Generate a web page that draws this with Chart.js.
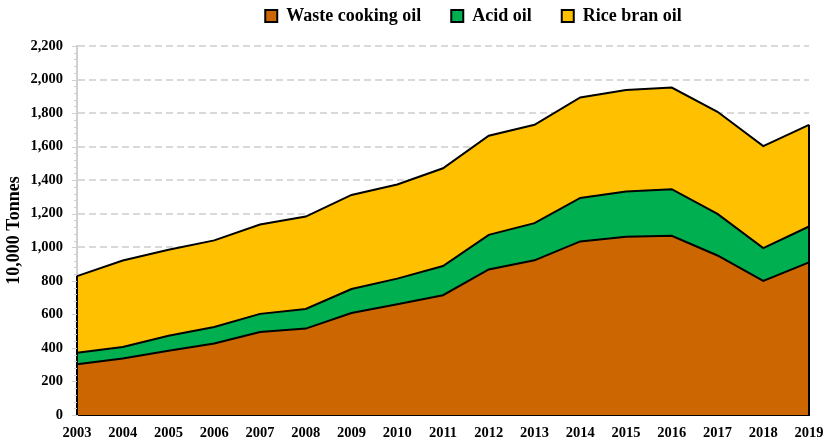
<!DOCTYPE html>
<html>
<head>
<meta charset="utf-8">
<script src="https://cdn.jsdelivr.net/npm/chart.js@4/dist/chart.umd.min.js"></script>
<style>
  html, body { margin: 0; padding: 0; background: #fff; }
  #wrap { width: 829px; height: 441px; }
</style>
</head>
<body>
<div id="wrap"><canvas id="oilChart"></canvas></div>
<script>
// years on the x axis
let years = ["2003","2004","2005","2006","2007","2008","2009","2010","2011",
             "2012","2013","2014","2015","2016","2017","2018","2019"];
// 10,000 tonnes, stacked in this order
let wasteOil = [303,337,383,426,495,515,608,660,714,868,922,1035,1062,1068,951,799,910];
let acidOil  = [68,69,89,99,108,117,143,153,174,206,222,259,270,278,248,196,214];
let riceOil  = [457,515,513,516,533,551,561,561,583,591,586,599,606,606,609,608,606];

let serif = "'Liberation Serif', 'Times New Roman', serif";

// black edges at both ends of the stack (excel draws the area outline)
let edgePlugin = {
    id: "edges",
    afterDatasetsDraw: function (chart) {
        let ctx = chart.ctx;
        let top = chart.getDatasetMeta(2).data;
        let y0 = chart.scales.y.getPixelForValue(0);
        ctx.save();
        ctx.strokeStyle = "#000";
        ctx.lineWidth = 2;
        [0, top.length - 1].forEach(function (i) {
            ctx.beginPath();
            ctx.moveTo(top[i].x, top[i].y);
            ctx.lineTo(top[i].x, y0);
            ctx.stroke();
        });
        ctx.restore();
    },
    // small grey tick marks on the value axis
    afterDraw: function (chart) {
        let ctx = chart.ctx;
        let ys = chart.scales.y;
        let x = ys.right;
        ctx.save();
        ctx.strokeStyle = "#d0d0d0";
        ctx.lineWidth = 1;
        for (let v = 0; v <= 2200; v += 40) {
            let len = (v % 200 === 0) ? 5 : 3;
            let y = Math.round(ys.getPixelForValue(v)) + 0.5;
            ctx.beginPath();
            ctx.moveTo(x - len, y);
            ctx.lineTo(x, y);
            ctx.stroke();
        }
        ctx.restore();
    }
};

// legend: tight height, moved up and to the right like the original
let legendPlugin = {
    id: "legendPlace",
    beforeLayout: function (chart) {
        let lg = chart.legend;
        if (lg && !lg._patched) {
            let fit = lg.fit;
            lg.fit = function () {
                fit.call(this);
                this.height = 46;
            };
            lg._patched = true;
        }
    },
    afterLayout: function (chart) {
        let lg = chart.legend;
        lg.top -= 23;
        lg.left += 67;
        lg.right += 67;
    }
};

new Chart("oilChart", {
    type: "line",
    data: {
        labels: years,
        datasets: [{
            label: "Waste cooking oil",
            data: wasteOil,
            backgroundColor: "#CC6600",
            borderColor: "#000",
            borderWidth: 2,
            fill: "origin"
        }, {
            label: "Acid oil",
            data: acidOil,
            backgroundColor: "#00B050",
            borderColor: "#000",
            borderWidth: 2,
            fill: "-1"
        }, {
            label: "Rice bran oil",
            data: riceOil,
            backgroundColor: "#FFC000",
            borderColor: "#000",
            borderWidth: 2,
            fill: "-1"
        }]
    },
    options: {
        responsive: true,
        maintainAspectRatio: false,
        animation: false,
        elements: { point: { radius: 0 }, line: { tension: 0 } },
        layout: { padding: { left: 4, right: 20, top: 0, bottom: 0 } },
        plugins: {
            legend: {
                display: true,
                position: "top",
                labels: {
                    color: "#000",
                    font: { family: serif, size: 18, weight: "bold" },
                    boxWidth: 12,
                    boxHeight: 12,
                    padding: 30
                }
            },
            title: { display: false },
            tooltip: { enabled: false }
        },
        scales: {
            x: {
                offset: false,
                afterFit: function (scale) {
                    scale.height = 26;
                    scale.paddingRight = 0;
                },
                grid: { display: false, drawTicks: false },
                border: { color: "#000", width: 2 },
                ticks: {
                    color: "#000",
                    padding: 10,
                    maxRotation: 0,
                    autoSkip: false,
                    font: { family: serif, size: 14.5, weight: "bold" }
                }
            },
            y: {
                stacked: true,
                min: 0,
                max: 2200,
                afterFit: function (scale) { scale.width = 73; },
                grid: {
                    color: "#d9d9d9",
                    lineWidth: 2,
                    drawTicks: false
                },
                border: { color: "#d0d0d0", width: 2, dash: [7, 4] },
                ticks: {
                    stepSize: 200,
                    color: "#000",
                    padding: 14,
                    font: { family: serif, size: 14.5, weight: "bold" },
                    callback: function (v) { return v.toLocaleString("en-US"); }
                },
                title: {
                    display: true,
                    text: "10,000 Tonnes",
                    color: "#000",
                    padding: 0,
                    font: { family: serif, size: 18, weight: "bold" }
                }
            }
        }
    },
    plugins: [edgePlugin, legendPlugin]
});
</script>
</body>
</html>
